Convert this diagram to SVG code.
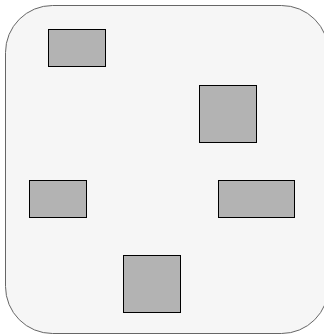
<svg xmlns="http://www.w3.org/2000/svg" width="324" height="335" viewBox="0 0 324 335">
<style>
.outer{fill:#f6f6f6;stroke:#666;stroke-width:1}
.box{fill:#b3b3b3;stroke:#000;stroke-width:1}
</style>
<rect width="324" height="335" fill="#fff"/>
<g id="container"><rect class="outer" x="5.5" y="5.5" width="323" height="328" rx="47" ry="47"/></g>
<g id="node1"><rect class="box" x="48.5" y="29.5" width="57" height="37"/></g>
<g id="node2"><rect class="box" x="199.5" y="85.5" width="57" height="57"/></g>
<g id="node3"><rect class="box" x="29.5" y="180.5" width="57" height="37"/></g>
<g id="node4"><rect class="box" x="218.5" y="180.5" width="76" height="37"/></g>
<g id="node5"><rect class="box" x="123.5" y="255.5" width="57" height="57"/></g>
<g id="connectors"></g>
</svg>
